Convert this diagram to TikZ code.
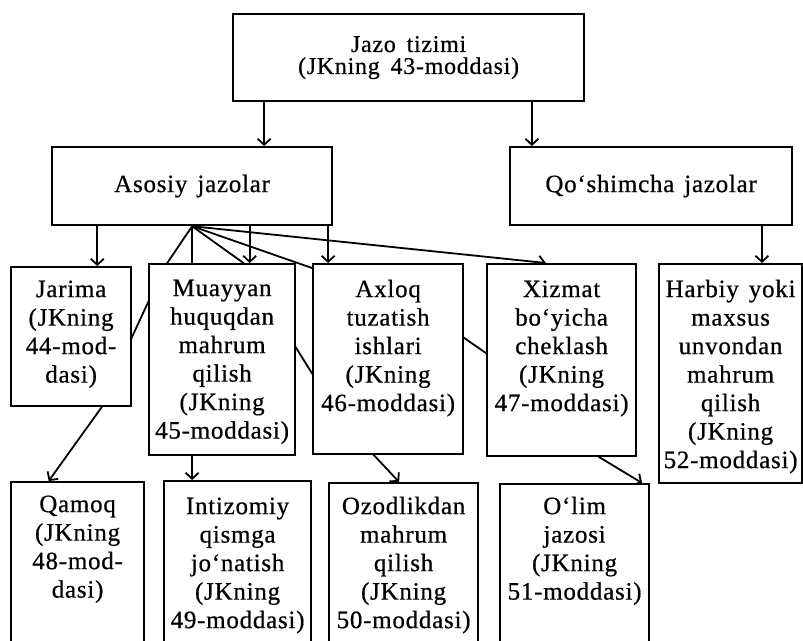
\documentclass[tikz,border=0pt]{standalone}
\usepackage{fontspec}
\setmainfont{Liberation Serif}[LetterSpace=3,FakeBold=0.6]
\usetikzlibrary{calc,backgrounds,arrows.meta}

\newcommand\celltext[4]{\parbox[c][#1][t]{#2}{\centering\rule{0pt}{#3}#4}}
\newcommand\cellfont{\fontsize{25}{28.5}\selectfont\spaceskip=0.4em plus 0.1em minus 0.05em\relax}
\newcommand\topfont{\fontsize{24}{22}\selectfont\spaceskip=0.45em plus 0.1em\relax}

\tikzset{
  bx/.style={draw, line width=2.2pt, fill=white, inner sep=0pt, anchor=north west},
  txt/.style={font=\cellfont},
  ln/.style={line width=1.8pt, line join=round},
  arr/.style={ln, -{Straight Barb[length=6pt,width=13pt]}}
}

\begin{document}
\begin{tikzpicture}[x=1pt,y=-1pt]
\path[use as bounding box] (0,0) rectangle (803,640);

% level 0
\node[bx, minimum width=351pt, minimum height=87pt, align=center, font=\topfont] (top) at (232,13)
  {Jazo tizimi\\(JKning 43-moddasi)};

% level 1
\node[bx, txt, minimum width=280pt, minimum height=78pt] (asosiy) at (51,146) {Asosiy jazolar};
\node[bx, txt, minimum width=282pt, minimum height=78pt] (qosh) at (509,146) {Qo‘shimcha jazolar};

% level 2
\node[bx, txt] (jarima) at (10,266) {\celltext{139pt}{120pt}{30pt}{Jarima\\(JKning\\44-mod-\\dasi)}};
\node[bx, txt] (muayyan) at (148,263) {\celltext{191pt}{146pt}{32pt}{Muayyan\\huquqdan\\mahrum\\qilish\\(JKning\\45-moddasi)}};
\node[bx, txt] (axloq) at (312,263) {\celltext{190pt}{150pt}{33pt}{Axloq\\tuzatish\\ishlari\\(JKning\\46-moddasi)}};
\node[bx, txt] (xizmat) at (486,263) {\celltext{192pt}{149pt}{33pt}{Xizmat\\bo‘yicha\\cheklash\\(JKning\\47-moddasi)}};
\node[bx, txt] (harbiy) at (658,263) {\celltext{219pt}{143pt}{33pt}{Harbiy yoki\\maxsus\\unvondan\\mahrum\\qilish\\(JKning\\52-moddasi)}};

% level 3
\node[bx, txt] (qamoq) at (10,481) {\celltext{200pt}{133pt}{30pt}{Qamoq\\(JKning\\48-mod-\\dasi)}};
\node[bx, txt] (intiz) at (163,480) {\celltext{200pt}{147pt}{33pt}{Intizomiy\\qismga\\jo‘natish\\(JKning\\49-moddasi)}};
\node[bx, txt] (ozod) at (328,482) {\celltext{200pt}{149pt}{31pt}{Ozodlikdan\\mahrum\\qilish\\(JKning\\50-moddasi)}};
\node[bx, txt] (olim) at (499,483) {\celltext{200pt}{149pt}{30pt}{O‘lim\\jazosi\\(JKning\\51-moddasi)}};

% attachment points
\coordinate (t1) at ($(top.south west)!0.091!(top.south east)$);
\coordinate (t2) at ($(top.south west)!0.849!(top.south east)$);
\coordinate (q1) at ($(qosh.south west)!0.89!(qosh.south east)$);
\coordinate (fan) at (asosiy.south);
\coordinate (aj) at ($(asosiy.south west)!0.164!(asosiy.south east)$);
\coordinate (am) at ($(asosiy.south west)!0.704!(asosiy.south east)$);
\coordinate (ax) at ($(asosiy.south west)!0.982!(asosiy.south east)$);

\coordinate (pA) at ($(muayyan.north west)!0.13!(muayyan.north east)$);
\coordinate (pB) at ($(muayyan.north west)!0.204!(muayyan.south west)$);
\coordinate (pC) at (jarima.east);
\coordinate (pD) at ($(jarima.south west)!0.75!(jarima.south east)$);

\coordinate (pE) at ($(muayyan.north west)!0.644!(muayyan.north east)$);
\coordinate (pF) at ($(muayyan.north east)!0.44!(muayyan.south east)$);
\coordinate (pG) at ($(axloq.north west)!0.574!(axloq.south west)$);
\coordinate (pH) at ($(axloq.south west)!0.407!(axloq.south east)$);

\coordinate (pI) at ($(axloq.north west)!0.026!(axloq.south west)$);
\coordinate (pJ) at ($(axloq.north east)!0.39!(axloq.south east)$);
\coordinate (pK) at ($(xizmat.north west)!0.464!(xizmat.south west)$);
\coordinate (pL) at ($(xizmat.south west)!0.75!(xizmat.south east)$);

\begin{scope}[on background layer]
  \draw[arr] (t1) -- (t1 |- asosiy.north);
  \draw[arr] (t2) -- (t2 |- qosh.north);
  \draw[arr] (q1) -- (q1 |- harbiy.north);

  \draw[arr] (aj) -- (aj |- jarima.north);
  \draw[arr] (am) -- (am |- muayyan.north);
  \draw[arr] (ax) -- (ax |- axloq.north);
  \draw[arr] (fan) -- ($(xizmat.north west)!0.396!(xizmat.north east)$);
  \draw[arr] (fan) -- (fan |- intiz.north);
  \draw[arr] (fan) -- (pA) -- (pB) -- (pC) -- (pD) -- ($(qamoq.north west)!0.286!(qamoq.north east)$);
  \draw[arr] (fan) -- (pE) -- (pF) -- (pG) -- (pH) -- ($(ozod.north west)!0.47!(ozod.north east)$);
  \draw[arr] (fan) -- (pI) -- (pJ) -- (pK) -- (pL) -- ($(olim.north west)!0.946!(olim.north east)$);
\end{scope}
\end{tikzpicture}
\end{document}
